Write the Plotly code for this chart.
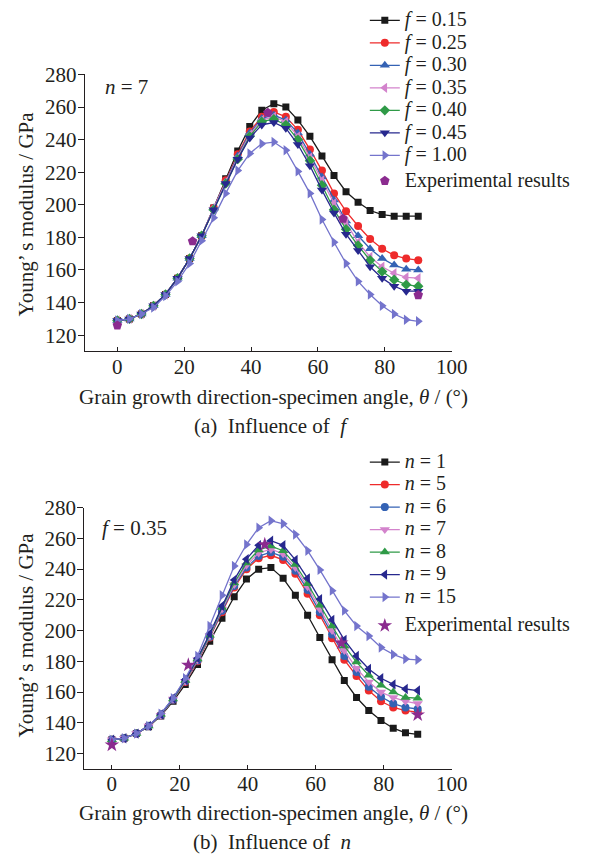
import plotly.graph_objects as go

# ── DATA ────────────────────────────────────────────────────────────────────
theta = [round(i * 3.6, 1) for i in range(26)]

rise = [129, 130, 133, 138, 145, 155, 167, 181]

f_015 = rise + [198, 216, 233, 248, 258, 262, 260, 252, 242, 230, 218, 208, 201.5, 196.5, 194, 193, 193, 193]
f_025 = rise + [198, 215, 231, 245, 254, 257, 254, 246, 234, 221, 207, 196, 187, 179, 173, 169, 167, 166]
f_030 = rise + [198, 214, 230, 244, 253, 255, 252, 244, 231, 217, 203, 190, 181, 173, 167, 163, 160.5, 160]
f_035 = rise + [198, 214, 229, 243, 252, 254, 251, 242, 229, 215, 201, 189, 177, 168, 162, 158, 155.5, 155]
f_040 = rise + [197, 213, 228, 242, 251, 252.5, 249, 240, 227, 212, 197, 185, 175, 166, 159, 154, 151, 150]
f_045 = rise + [197, 213, 228, 241, 249, 250.5, 247, 237, 224, 209, 195, 182, 172, 162, 155, 150, 147, 147]
f_100 = [129, 130, 133, 137, 144, 153, 164, 178, 192, 207, 221, 231.5, 237.5, 238.5, 233.5, 220.5,
         207, 191, 177, 164, 153, 145, 138, 133, 129.5, 128.5]

n_1 = [129, 130, 133, 137.5, 144.5, 154, 165, 178, 193, 208, 222, 233.5, 240, 241, 234, 223,
       210, 195.5, 181, 167.5, 156.5, 148, 141.5, 136.5, 133.5, 132.5]
n_5 = [129, 130, 133, 138, 145, 155, 166.5, 180, 195.5, 212, 228, 240, 247, 249, 246, 237,
       224, 210, 195, 181, 170.5, 161, 154, 150, 148, 147]
n_6 = [129, 130, 133, 138, 145, 155, 167, 180.5, 196, 213, 229, 241, 248.5, 251, 248, 239,
       226.5, 212, 197.5, 183.5, 173, 163.5, 157, 152.5, 150, 149]
n_7 = [129, 130, 133, 138, 145, 155.5, 167, 181, 196.5, 214, 230, 242.5, 250.5, 253, 250, 241,
       228.5, 214, 200, 187, 175.5, 166.5, 160, 156.5, 154, 152.5]
n_8 = [129, 130, 133, 138, 145.5, 155.5, 167.5, 181.5, 197, 215, 231, 244, 252.5, 255, 252, 243,
       230.5, 216.5, 203, 190, 179.5, 171, 164.5, 160, 156.5, 156]
n_9 = [129, 130, 133, 138, 145.5, 156, 168, 182, 198, 216, 233, 246.5, 255.5, 258.5, 255.5, 246,
       234, 220.5, 207, 194, 183.5, 175, 169, 165, 162, 161]
n_15 = [129, 130, 133, 138, 146, 156, 169, 183.5, 203, 223, 242, 256, 267, 271.5, 269.5, 262.5,
        252, 239.5, 226, 213, 203, 196.5, 189, 184.5, 181.5, 181]

exp_theta = [0, 22.5, 45, 67.5, 90]
exp_top = [126, 177.6, 256.5, 191.5, 144.6]
exp_bottom = [125.6, 177.6, 256, 192, 145.2]

x_ticks = [0, 20, 40, 60, 80, 100]
y_ticks = [120, 140, 160, 180, 200, 220, 240, 260, 280]

# ── STYLE ───────────────────────────────────────────────────────────────────
FONT = "Liberation Serif"
INK = "#231f20"
BLACK = "#1a1a1a"
RED = "#ee2b2b"
BLUE = "#3462b4"
PINK = "#d383cc"
GREEN = "#2f9a47"
NAVY = "#27288e"
LAV = "#7474cc"
PURPLE = "#8b2b8f"

W, H = 589, 856
FS = 21


def px_x(p):
    return p / W


def px_y(p):
    return 1 - p / H


def leg(txt):
    # texto maior que a fonte da legenda, para manter o espaçamento compacto
    return f'<span style="font-size:{FS - 1}px">{txt}</span>'


fig = go.Figure()

top_series = [
    ("<i>f</i> = 0.15", f_015, BLACK, "square", 7),
    ("<i>f</i> = 0.25", f_025, RED, "circle", 8),
    ("<i>f</i> = 0.30", f_030, BLUE, "triangle-up", 9),
    ("<i>f</i> = 0.35", f_035, PINK, "triangle-left", 9),
    ("<i>f</i> = 0.40", f_040, GREEN, "diamond", 8),
    ("<i>f</i> = 0.45", f_045, NAVY, "triangle-down", 9),
    ("<i>f</i> = 1.00", f_100, LAV, "triangle-right", 9),
]
for name, ys, color, sym, size in top_series:
    fig.add_trace(go.Scatter(
        x=theta, y=ys, name=leg(name), mode="lines+markers",
        line=dict(color=color, width=1.3),
        marker=dict(symbol=sym, size=size, color=color),
        xaxis="x", yaxis="y", legend="legend", legendgroup="a",
    ))
fig.add_trace(go.Scatter(
    x=exp_theta, y=exp_top, name=leg("Experimental results"), mode="markers",
    marker=dict(symbol="pentagon", size=10, color=PURPLE),
    xaxis="x", yaxis="y", legend="legend", legendgroup="b",
))

bottom_series = [
    ("<i>n</i> = 1", n_1, BLACK, "square", 7),
    ("<i>n</i> = 5", n_5, RED, "circle", 8),
    ("<i>n</i> = 6", n_6, BLUE, "circle", 8),
    ("<i>n</i> = 7", n_7, PINK, "triangle-down", 9),
    ("<i>n</i> = 8", n_8, GREEN, "triangle-up", 9),
    ("<i>n</i> = 9", n_9, NAVY, "triangle-left", 9),
    ("<i>n</i> = 15", n_15, LAV, "triangle-right", 9),
]
for name, ys, color, sym, size in bottom_series:
    fig.add_trace(go.Scatter(
        x=theta, y=ys, name=leg(name), mode="lines+markers",
        line=dict(color=color, width=1.3),
        marker=dict(symbol=sym, size=size, color=color),
        xaxis="x2", yaxis="y2", legend="legend2", legendgroup="c",
    ))
fig.add_trace(go.Scatter(
    x=exp_theta, y=exp_bottom, name=leg("Experimental results"), mode="markers",
    marker=dict(symbol="star", size=11, color=PURPLE),
    xaxis="x2", yaxis="y2", legend="legend2", legendgroup="d",
))

xcommon = dict(
    tickvals=x_ticks, ticks="inside", ticklen=4, tickwidth=1.2, tickcolor=INK,
    showline=True, linecolor=INK, linewidth=1.3, showgrid=False, zeroline=False,
    tickfont=dict(family=FONT, size=FS, color=INK), ticklabelstandoff=-4,
)
ycommon = dict(
    tickvals=y_ticks, range=[110, 280], ticks="outside", ticklen=6, tickwidth=1.2,
    tickcolor=INK, showline=True, linecolor=INK, linewidth=1.3, showgrid=False,
    zeroline=False, tickfont=dict(family=FONT, size=FS, color=INK), ticklabelstandoff=-3,
)

legend_common = dict(
    font=dict(family=FONT, size=15, color=INK), bgcolor="rgba(0,0,0,0)",
    itemwidth=30, traceorder="grouped",
    xanchor="left", yanchor="top", itemclick=False,
)

ann_font = dict(family=FONT, size=FS, color=INK)
xtitle = "Grain growth direction-specimen angle, <i>θ</i> / (°)"
ytitle = "Young’ s modulus / GPa"

fig.update_layout(
    width=W, height=H,
    margin=dict(l=0, r=0, t=0, b=0),
    paper_bgcolor="white", plot_bgcolor="white",
    font=dict(family=FONT, color=INK),
    xaxis=dict(**xcommon, domain=[px_x(87.3), px_x(464.3)], range=[-9.7, 100], anchor="y"),
    yaxis=dict(**ycommon, domain=[px_y(344.3), px_y(63.3)], anchor="x"),
    xaxis2=dict(**xcommon, domain=[px_x(86.7), px_x(464.3)], range=[-8.1, 100], anchor="y2"),
    yaxis2=dict(**ycommon, domain=[px_y(767.7), px_y(502.7)], anchor="x2"),
    legend=dict(**legend_common, x=px_x(375), y=px_y(-8), tracegroupgap=3),
    legend2=dict(**legend_common, x=px_x(375), y=px_y(440), tracegroupgap=6),
    annotations=[
        dict(text="<i>n</i> = 7", x=px_x(106), y=px_y(76), xref="paper", yref="paper",
             xanchor="left", yanchor="middle", showarrow=False, font=ann_font),
        dict(text="<i>f</i> = 0.35", x=px_x(103), y=px_y(523), xref="paper", yref="paper",
             xanchor="left", yanchor="middle", showarrow=False, font=ann_font),
        dict(text=xtitle, x=px_x(281), y=px_y(390), xref="paper", yref="paper",
             xanchor="center", yanchor="middle", showarrow=False, font=ann_font),
        dict(text=xtitle, x=px_x(281), y=px_y(812), xref="paper", yref="paper",
             xanchor="center", yanchor="middle", showarrow=False, font=ann_font),
        dict(text="(a)  Influence of  <i>f</i>", x=px_x(279), y=px_y(420), xref="paper", yref="paper",
             xanchor="center", yanchor="middle", showarrow=False, font=ann_font),
        dict(text="(b)  Influence of  <i>n</i>", x=px_x(280), y=px_y(842), xref="paper", yref="paper",
             xanchor="center", yanchor="middle", showarrow=False, font=ann_font),
        dict(text=ytitle, x=px_x(27), y=px_y(205), xref="paper", yref="paper", textangle=-90,
             xanchor="center", yanchor="middle", showarrow=False, font=ann_font),
        dict(text=ytitle, x=px_x(27), y=px_y(632), xref="paper", yref="paper", textangle=-90,
             xanchor="center", yanchor="middle", showarrow=False, font=ann_font),
    ],
)

fig.write_html("out.html", config={"displayModeBar": False},
               post_script="document.body.style.margin='0';")
